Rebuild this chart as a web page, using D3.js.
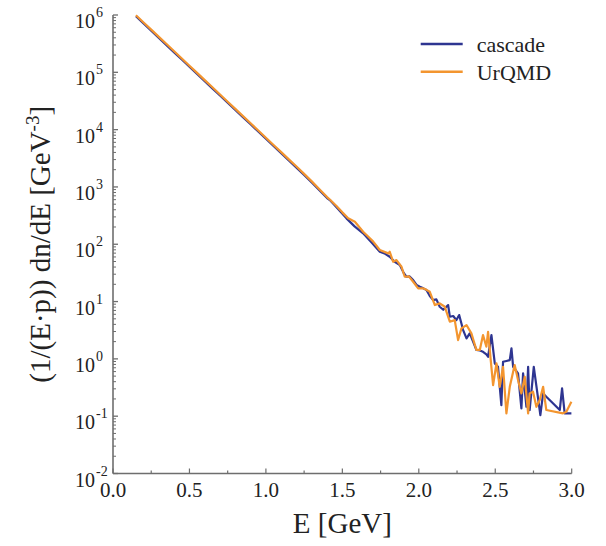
<!DOCTYPE html>
<html>
<head>
<meta charset="utf-8">
<script src="https://cdn.jsdelivr.net/npm/d3@7/dist/d3.min.js"></script>
<style>
  html, body { margin: 0; padding: 0; background: #fff; }
  svg { display: block; }
</style>
</head>
<body>
<svg id="chart" width="606" height="546" font-family="'Liberation Serif', 'Times New Roman', Times, serif"></svg>
<script>
// ---- data ----
const cascadeE = [0.15,0.20,0.25,0.30,0.35,0.40,0.45,0.50,0.55,0.60,0.65,0.70,0.75,0.80,0.85,0.90,0.95,1.00,1.05,1.10,1.15,1.20,1.25,1.30,1.35,1.40,
  1.418,1.45,1.49,1.527,1.58,1.636,1.69,1.745,1.78,1.810,1.84,1.876,1.90,1.919,1.94,1.963,1.985,2.007,2.03,2.050,2.072,2.094,2.115,2.137,2.16,2.192,2.203,2.225,2.246,2.264,2.290,2.312,2.333,2.355,2.377,2.399,2.420,2.442,2.453,2.475,2.497,2.518,2.540,2.551,2.573,2.595,2.606,2.617,2.649,2.671,2.682,2.704,2.715,2.725,2.752,2.795,2.813,2.834,2.922,2.937,2.954,2.998];
const cascadeY = [9.55e5,7.10e5,5.32e5,3.98e5,2.98e5,2.23e5,1.67e5,1.25e5,9.38e4,7.02e4,5.25e4,3.93e4,2.94e4,2.20e4,1.65e4,1.24e4,9.25e3,6.92e3,5.18e3,3.88e3,2.90e3,2.17e3,1.62e3,1.20e3,880,640,
  590,480,365,283,205,155,108,74,68,60.5,50,43.4,32,27.1,27.5,23.7,19.5,18.1,17.0,15.9,12.5,10.6,10.9,8.11,7.2,8.69,5.43,5.6,4.75,5.81,3.18,2.28,2.79,2.0,1.43,1.40,1.33,1.20,1.09,2.60,0.834,0.728,0.156,0.889,0.92,0.953,1.52,0.728,0.558,0.137,0.558,0.146,0.728,0.128,0.728,0.104,0.250,0.218,0.128,0.305,0.112,0.112];
const urqmdE = [0.15,0.20,0.25,0.30,0.35,0.40,0.45,0.50,0.55,0.60,0.65,0.70,0.75,0.80,0.85,0.90,0.95,1.00,1.05,1.10,1.15,1.20,1.25,1.30,1.35,1.40,
  1.418,1.46,1.50,1.538,1.582,1.636,1.670,1.702,1.745,1.800,1.810,1.832,1.854,1.887,1.908,1.935,1.963,1.996,2.028,2.050,2.072,2.105,2.137,2.170,2.203,2.235,2.257,2.279,2.312,2.344,2.377,2.399,2.420,2.442,2.453,2.486,2.508,2.529,2.551,2.573,2.595,2.627,2.649,2.671,2.693,2.715,2.725,2.747,2.769,2.791,2.813,2.834,2.943,2.965,2.998];
const urqmdY = [9.9e5,7.42e5,5.55e5,4.16e5,3.11e5,2.33e5,1.745e5,1.30e5,9.78e4,7.32e4,5.48e4,4.10e4,3.07e4,2.30e4,1.72e4,1.29e4,9.65e3,7.22e3,5.40e3,4.05e3,3.03e3,2.27e3,1.69e3,1.25e3,915,665,
  603,470,360,283,247,165,135,111,79.3,69.3,74.0,49.5,53.0,40.5,27.1,27.5,22.2,17.0,17.0,16.0,14.8,8.69,9.31,8.11,4.45,4.75,2.13,3.40,3.89,2.79,1.43,1.43,2.60,1.63,2.97,0.349,0.834,0.326,0.728,0.112,0.326,0.780,0.427,0.250,0.488,0.112,0.250,0.267,0.146,0.191,0.326,0.128,0.112,0.119,0.178];
const xTickValues = [0, 0.5, 1.0, 1.5, 2.0, 2.5, 3.0];
const xTickLabels = ["0.0", "0.5", "1.0", "1.5", "2.0", "2.5", "3.0"];
const yExponents = [-2, -1, 0, 1, 2, 3, 4, 5, 6];
const seriesNames = ["cascade", "UrQMD"];
const seriesColors = ["#2e3591", "#f3952f"];

(function () {
  const svg = d3.select("#chart");
  const textColor = "#222";
  const mLeft = 113, mRight = 571.7, mTop = 15, mBottom = 473.5;
  const x = d3.scaleLinear().domain([0, 3]).range([mLeft, mRight]);
  const y = d3.scaleLog().domain([1e-2, 1e6]).range([mBottom, mTop]);
  const axisColor = "#6e6e6e";

  // x axis (ticks inward = upward)
  const xMinor = d3.range(0, 3.0001, 0.25);
  const gx = svg.append("g").attr("transform", `translate(0,${mBottom})`);
  gx.append("line").attr("x1", mLeft).attr("x2", mRight).attr("stroke", axisColor).attr("stroke-width", 1.6);
  gx.selectAll("line.tick").data(xMinor).join("line")
    .attr("class", "tick")
    .attr("x1", d => x(d)).attr("x2", d => x(d))
    .attr("y1", 0).attr("y2", d => (Math.abs(d * 2 - Math.round(d * 2)) < 1e-6) ? -5 : -3)
    .attr("stroke", axisColor).attr("stroke-width", 1.2);
  gx.selectAll("text").data(xTickValues).join("text")
    .attr("x", d => x(d)).attr("y", 23.5).attr("fill", textColor)
    .attr("text-anchor", "middle").attr("font-size", 21)
    .text((d, i) => xTickLabels[i]);

  // y axis (ticks inward = rightward)
  const gy = svg.append("g");
  gy.append("line").attr("x1", mLeft).attr("x2", mLeft).attr("y1", mTop).attr("y2", mBottom)
    .attr("stroke", axisColor).attr("stroke-width", 1.6);
  const yMinor = [];
  yExponents.slice(0, -1).forEach(e => { for (let m = 2; m <= 9; m++) yMinor.push(m * Math.pow(10, e)); });
  gy.selectAll("line.minor").data(yMinor).join("line").attr("class", "minor")
    .attr("x1", mLeft).attr("x2", mLeft + 3).attr("y1", d => y(d)).attr("y2", d => y(d))
    .attr("stroke", axisColor).attr("stroke-width", 1);
  gy.selectAll("line.major").data(yExponents).join("line").attr("class", "major")
    .attr("x1", mLeft).attr("x2", mLeft + 5).attr("y1", d => y(Math.pow(10, d))).attr("y2", d => y(Math.pow(10, d)))
    .attr("stroke", axisColor).attr("stroke-width", 1.3);
  const yl = gy.selectAll("g.ylab").data(yExponents).join("g").attr("class", "ylab");
  yl.append("text").attr("x", 95).attr("y", d => y(Math.pow(10, d)) + 13).attr("fill", textColor)
    .attr("text-anchor", "end").attr("font-size", 20).text("10");
  yl.append("text").attr("x", 96).attr("y", d => y(Math.pow(10, d)) + 2).attr("fill", textColor)
    .attr("text-anchor", "start").attr("font-size", 14).text(d => d < 0 ? "-" + Math.abs(d) : String(d));

  // axis titles
  svg.append("text").attr("x", (mLeft + mRight) / 2).attr("y", 533).attr("fill", textColor)
    .attr("text-anchor", "middle").attr("font-size", 29).text("E [GeV]");
  const yt = svg.append("text").attr("transform", `translate(50,${(mTop + mBottom) / 2}) rotate(-90)`)
    .attr("text-anchor", "middle").attr("font-size", 29).attr("fill", textColor);
  yt.append("tspan").text("(1/(E\u00B7p)) dn/dE [GeV");
  yt.append("tspan").attr("dy", -11).attr("font-size", 19).text("-3");
  yt.append("tspan").attr("dy", 11).text("]");

  // series
  const line = d3.line().x(d => x(d[0])).y(d => y(d[1]));
  const series = [d3.zip(cascadeE, cascadeY), d3.zip(urqmdE, urqmdY)];
  svg.append("g").selectAll("path").data(series).join("path")
    .attr("d", line).attr("fill", "none")
    .attr("stroke", (d, i) => seriesColors[i]).attr("stroke-width", 2.2)
    .attr("stroke-linejoin", "round");

  // legend
  const lg = svg.append("g");
  const legY = [44, 71.7];
  seriesNames.forEach((n, i) => {
    lg.append("line").attr("x1", 420.7).attr("x2", 462.7).attr("y1", legY[i]).attr("y2", legY[i])
      .attr("stroke", seriesColors[i]).attr("stroke-width", 2.4);
    lg.append("text").attr("x", 476.7).attr("y", legY[i] + 8).attr("font-size", 22).attr("fill", textColor).text(n);
  });
})();
</script>
</body>
</html>
